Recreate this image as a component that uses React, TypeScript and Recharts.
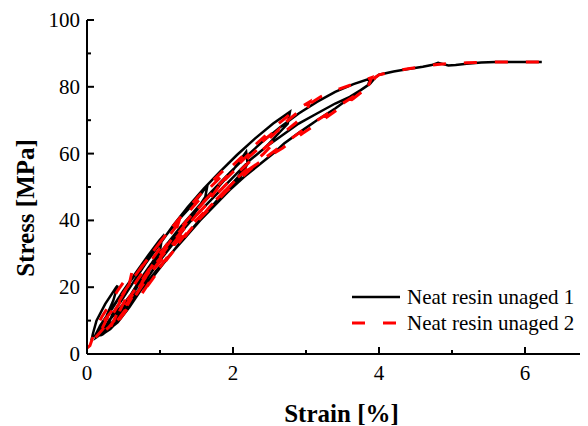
import { LineChart, Line, XAxis, YAxis, Legend, Label } from 'recharts';

const FONT = "'Liberation Serif', 'Times New Roman', Times, serif";

// axis ticks (minor + major) and the ones that get a label
const strainTicks = [0, 1, 2, 3, 4, 5, 6, 7];
const strainLabels = [0, 2, 4, 6];
const stressTicks = [0, 10, 20, 30, 40, 50, 60, 70, 80, 90, 100];
const stressLabels = [0, 20, 40, 60, 80, 100];

const seriesNames = ['Neat resin unaged 1', 'Neat resin unaged 2'];

// specimen 1: load / unload cycles, then load to failure
const strain1 = [
  0.06, 0.08, 0.13, 0.25, 0.4, 0.42,
  0.36, 0.27, 0.17, 0.1,
  0.18, 0.35, 0.5, 0.66, 0.82, 0.99, 1.03,
  1.0, 0.88, 0.72, 0.55, 0.4, 0.26, 0.13,
  0.24, 0.4, 0.55, 0.72, 0.9, 1.08, 1.27, 1.48, 1.65,
  1.62, 1.5, 1.35, 1.18, 0.98, 0.8, 0.62, 0.47, 0.32, 0.18,
  0.3, 0.5, 0.68, 0.85, 1.02, 1.2, 1.38, 1.58, 1.8, 2.0, 2.18,
  2.2, 2.1, 1.95, 1.75, 1.55, 1.35, 1.15, 0.95, 0.75, 0.58, 0.42, 0.25,
  0.35, 0.5, 0.62, 0.8, 1.0, 1.18, 1.38, 1.6, 1.82, 2.05, 2.3, 2.55, 2.78,
  2.75, 2.6, 2.45, 2.23, 2.05, 1.85, 1.65, 1.45, 1.25, 1.05, 0.85, 0.67, 0.5, 0.35,
  0.47, 0.68, 0.88, 1.08, 1.28, 1.48, 1.7, 1.92, 2.15, 2.4, 2.65, 2.9, 3.15, 3.4, 3.65, 3.88,
  3.85, 3.65, 3.4, 3.15, 2.92, 2.7, 2.55, 2.35, 2.15, 1.95, 1.75, 1.55, 1.35, 1.15, 0.95, 0.78,
  0.9, 1.08, 1.28, 1.48, 1.68, 1.88, 2.05, 2.23, 2.45, 2.68, 2.9, 3.15, 3.4, 3.6, 3.75, 3.88, 3.95,
  4.0, 4.2, 4.4, 4.6, 4.72, 4.81, 4.88, 4.95, 5.05, 5.2, 5.4, 5.6, 5.9, 6.23,
];
const stress1 = [
  4, 6, 10, 15, 20, 20.5,
  16, 11.5, 7, 5,
  8.5, 14, 19, 24, 29, 34, 35,
  31, 27, 22, 16, 11, 7, 5,
  10, 15.5, 20.5, 25.5, 30.5, 35.5, 40.5, 45.5, 50.5,
  47, 43, 38, 33, 27.5, 22, 16.5, 11, 7.5, 5.5,
  10, 15, 20, 25, 30, 35, 40, 45, 50, 55, 60.5,
  57, 53, 49, 44.5, 40, 35, 30, 25, 19.5, 14, 9.5, 6.5,
  12, 17, 21, 27, 33, 38.5, 44, 49.5, 54.5, 59.5, 64.5, 69, 72.5,
  69, 65.5, 62, 58, 54, 49.5, 45, 40.5, 35.5, 30.5, 25, 19.5, 13.5, 9,
  14, 20, 26.5, 32.5, 38, 43, 48.5, 53.5, 58.5, 63.5, 68, 72, 75.5, 78.5, 80.8, 82.5,
  80.5, 77.5, 73.5, 70, 66.5, 63, 60, 56.5, 53, 49, 44.5, 40, 35, 30, 24.5, 19.5,
  23, 28, 33.5, 38.5, 43.5, 48.5, 52.5, 58, 62, 65.6, 69, 72, 75, 77, 79, 81, 82.8,
  83.6, 84.6, 85.3, 86, 86.5, 87.2, 86.8, 86.4, 86.5, 86.9, 87.3, 87.4, 87.4, 87.4,
];

// specimen 2
const strain2 = [
  0.0, 0.04, 0.08, 0.13, 0.2, 0.3, 0.42, 0.55, 0.62,
  0.58, 0.48, 0.34, 0.22, 0.12,
  0.2, 0.38, 0.52, 0.68, 0.85, 1.02, 1.2, 1.27,
  1.22, 1.1, 0.95, 0.78, 0.62, 0.45, 0.3, 0.16,
  0.27, 0.42, 0.58, 0.76, 0.95, 1.13, 1.32, 1.52, 1.73, 1.87,
  1.85, 1.72, 1.55, 1.38, 1.18, 0.98, 0.8, 0.62, 0.45, 0.3,
  0.42, 0.6, 0.78, 0.96, 1.15, 1.35, 1.55, 1.77, 2.0, 2.22, 2.45, 2.62,
  2.58, 2.42, 2.25, 2.05, 1.85, 1.65, 1.45, 1.25, 1.05, 0.85, 0.68, 0.52, 0.4,
  0.45, 0.55, 0.7, 0.88, 1.06, 1.25, 1.45, 1.67, 1.9, 2.12, 2.35, 2.6, 2.82, 3.05,
  3.0, 2.85, 2.65, 2.45, 2.25, 2.05, 1.85, 1.65, 1.45, 1.25, 1.05, 0.85, 0.68, 0.55,
  0.7, 0.9, 1.1, 1.3, 1.5, 1.72, 1.95, 2.2, 2.45, 2.7, 2.95, 3.2, 3.45, 3.74, 3.9,
  3.85, 3.68, 3.5, 3.3, 3.05, 2.8, 2.55, 2.3, 2.1, 1.9, 1.7, 1.5, 1.3, 1.1, 0.9, 0.72,
  0.9, 1.1, 1.3, 1.5, 1.7, 1.9, 2.1, 2.37, 2.68, 2.95, 3.19, 3.45, 3.65, 3.85, 3.95,
  4.0, 4.2, 4.4, 4.6, 4.8, 5.0, 5.2, 5.5, 5.9, 6.41,
];
const stress2 = [
  1.8, 2.5, 5, 8, 11, 14.5, 19, 23, 25,
  21, 16.5, 11.5, 7.5, 5,
  9, 14, 19, 24, 29, 34, 39, 40.5,
  37, 33, 28.5, 23, 17.5, 12, 8, 5.5,
  10.5, 15, 21, 26.5, 32, 37, 42, 47, 52, 55,
  51.5, 47.5, 43, 38.5, 33, 27.5, 22, 16, 11, 7,
  12.5, 17.5, 23, 28.5, 34, 39.5, 44.5, 49.5, 54.5, 59, 63.5, 67,
  63.5, 60, 56.5, 52.5, 48, 43.5, 39, 34, 29, 23.5, 18, 12.5, 9,
  13, 17.5, 22.5, 28, 33.5, 39, 44, 49.5, 54.5, 59, 63.5, 68.5, 72.5, 75.5,
  72, 69, 65.5, 62, 58, 54, 49.5, 45, 40.5, 35.5, 30, 24.5, 19, 14.5,
  20, 26, 32, 37.5, 43, 48.5, 54, 59.5, 64.5, 69, 73.5, 77, 79.3, 81.5, 82.8,
  80, 77.5, 75, 72, 68.5, 64.5, 60.5, 56.5, 52.5, 48.5, 44, 39.5, 34.5, 29, 23, 17,
  22.5, 28.5, 34, 39.5, 44.5, 49, 53.5, 57.5, 61.7, 66, 69.5, 73.5, 76.5, 80, 82.8,
  83.6, 84.6, 85.4, 86.1, 86.7, 87.0, 87.2, 87.4, 87.4, 87.4,
];

const neat1 = strain1.map((s, i) => ({ strain: s, stress: stress1[i] }));
const neat2 = strain2.map((s, i) => ({ strain: s, stress: stress2[i] }));

const tickText = { fontFamily: FONT, fontSize: 21, fill: '#000' };

function BottomTick({ x, y, payload }: any) {
  const major = strainLabels.includes(payload.value);
  return (
    <g>
      <line x1={x} x2={x} y1={y} y2={y - (major ? 7 : 4)} stroke="#000" strokeWidth={2} />
      {major && (
        <text x={x} y={y + 26} textAnchor="middle" style={tickText}>
          {payload.value}
        </text>
      )}
    </g>
  );
}

function TopTick({ x, y, payload }: any) {
  const major = strainLabels.includes(payload.value);
  return <line x1={x} x2={x} y1={y} y2={y + (major ? 7 : 4)} stroke="#000" strokeWidth={2} />;
}

function LeftTick({ x, y, payload }: any) {
  const major = stressLabels.includes(payload.value);
  return (
    <g>
      <line x1={x} x2={x + (major ? 7 : 4)} y1={y} y2={y} stroke="#000" strokeWidth={2} />
      {major && (
        <text x={x - 7} y={y + 7} textAnchor="end" style={tickText}>
          {payload.value}
        </text>
      )}
    </g>
  );
}

function RightTick({ x, y, payload }: any) {
  const major = stressLabels.includes(payload.value);
  return <line x1={x} x2={x - (major ? 7 : 4)} y1={y} y2={y} stroke="#000" strokeWidth={2} />;
}

function LegendBox() {
  return (
    <svg width={240} height={60}>
      <line x1={4} x2={52} y1={19} y2={19} stroke="#000" strokeWidth={2.5} />
      <text x={59} y={26} style={tickText}>{seriesNames[0]}</text>
      <line x1={4} x2={48} y1={45} y2={45} stroke="#ff0000" strokeWidth={3} strokeDasharray="13 18" />
      <text x={59} y={52} style={tickText}>{seriesNames[1]}</text>
    </svg>
  );
}

const titleStyle = { fontFamily: FONT, fontSize: 25, fontWeight: 'bold' as const, fill: '#000' };

export default function App() {
  return (
    <div style={{ width: 580, height: 418, overflow: 'hidden', position: 'relative' }}>
      <LineChart
        width={620}
        height={418}
        margin={{ top: 12, right: 30, bottom: 32, left: 19 }}
      >
        <XAxis
          dataKey="strain"
          type="number"
          domain={[0, 7]}
          ticks={strainTicks}
          interval={0}
          height={40}
          tickSize={0}
          tickMargin={0}
          tick={BottomTick}
          axisLine={{ stroke: '#000', strokeWidth: 2 }}
          allowDuplicatedCategory={false}
        >
          <Label
            content={() => (
              <text x={333.5} y={405} textAnchor="middle" dominantBaseline="central" style={titleStyle}>
                Strain [%]
              </text>
            )}
          />
        </XAxis>
        <XAxis
          xAxisId="top"
          orientation="top"
          dataKey="strain"
          type="number"
          domain={[0, 7]}
          ticks={strainTicks}
          interval={0}
          height={0}
          tickSize={0}
          tickMargin={0}
          tick={TopTick}
          axisLine={{ stroke: '#000', strokeWidth: 2 }}
        />
        <YAxis
          type="number"
          domain={[0, 100]}
          ticks={stressTicks}
          interval={0}
          width={60}
          tickSize={0}
          tickMargin={0}
          tick={LeftTick}
          axisLine={{ stroke: '#000', strokeWidth: 2 }}
        >
          <Label
            content={() => (
              <text
                x={17}
                y={200}
                transform="rotate(-90 17 200)"
                textAnchor="middle"
                dominantBaseline="central"
                style={titleStyle}
              >
                Stress [MPa]
              </text>
            )}
          />
        </YAxis>
        <YAxis
          yAxisId="right"
          orientation="right"
          type="number"
          domain={[0, 100]}
          ticks={stressTicks}
          interval={0}
          width={0}
          tickSize={0}
          tickMargin={0}
          tick={RightTick}
          axisLine={{ stroke: '#000', strokeWidth: 2 }}
        />
        <Legend
          layout="vertical"
          align="center"
          verticalAlign="middle"
          content={() => <LegendBox />}
          wrapperStyle={{ position: 'absolute', left: 340, top: 270, width: 240, height: 60 }}
        />
        <Line
          data={neat1}
          dataKey="stress"
          name={seriesNames[0]}
          type="linear"
          stroke="#000"
          strokeWidth={2.5}
          dot={false}
          isAnimationActive={false}
        />
        <Line
          data={neat2}
          dataKey="stress"
          name={seriesNames[1]}
          type="linear"
          stroke="#ff0000"
          strokeWidth={3}
          strokeDasharray="13 18"
          dot={false}
          isAnimationActive={false}
        />
      </LineChart>
    </div>
  );
}
